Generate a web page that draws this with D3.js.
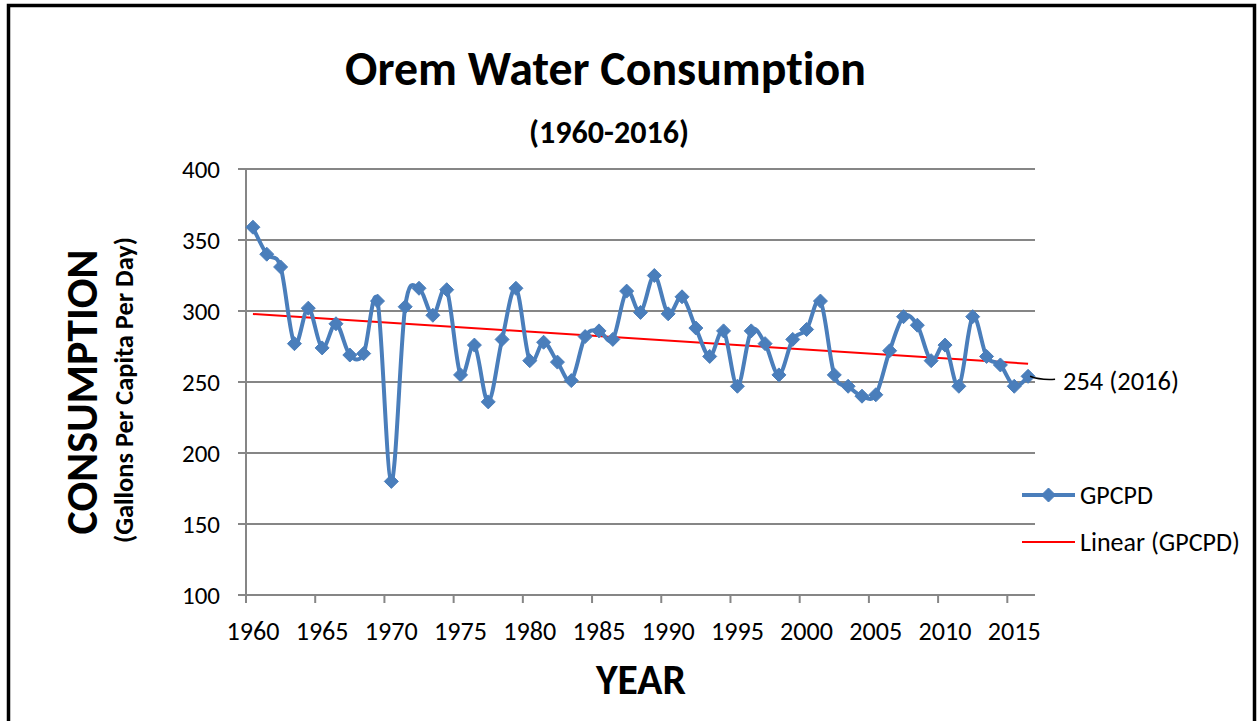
<!DOCTYPE html>
<html>
<head>
<meta charset="utf-8">
<script src="https://cdn.jsdelivr.net/npm/d3@7"></script>
<style>
  html, body { margin: 0; padding: 0; background: #fff; }
  svg { display: block; }
  text { font-family: Carlito, Lato, "Open Sans", sans-serif; fill: #000;
         font-variant-ligatures: none; font-feature-settings: "liga" 0, "clig" 0; }
</style>
</head>
<body>
<svg id="chart" width="1258" height="721"></svg>
<script>
// ---- data ----
const years = d3.range(1960, 2017);
const gpcpd = [
  359, 340, 331, 277, 302, 274, 291, 269, 270, 307,
  180, 303, 316, 297, 315, 255, 276, 236, 280, 316,
  265, 278, 264, 251, 282, 286, 280, 314, 299, 325,
  298, 310, 288, 268, 286, 247, 286, 277, 255, 280,
  287, 307, 255, 247, 240, 241, 272, 296, 290, 265,
  276, 247, 296, 268, 262, 247, 254
];
const yTicks = [100, 150, 200, 250, 300, 350, 400];
const xTickYears = [1960, 1965, 1970, 1975, 1980, 1985, 1990, 1995, 2000, 2005, 2010, 2015];
const titleText = "Orem Water Consumption";
const subtitleText = "(1960-2016)";
const xTitle = "YEAR";
const yTitle = "CONSUMPTION";
const ySubTitle = "(Gallons Per Capita Per Day)";
const seriesName = "GPCPD";
const trendName = "Linear (GPCPD)";
const lastLabel = "254 (2016)";

// ---- layout ----
const svg = d3.select("#chart");
const plot = { left: 246, right: 1035, top: 169, bottom: 595 };
const blue = "#4A7EBB", grid = "#868686", red = "#FF0000";

const x = d3.scaleBand().domain(years).range([plot.left, plot.right]).padding(0);
const cx = yr => x(yr) + x.bandwidth() / 2;
const y = d3.scaleLinear().domain([100, 400]).range([plot.bottom, plot.top]);

function fit(sel, target) {
  const base = parseFloat(sel.attr("font-size"));
  const w = sel.node().getComputedTextLength();
  sel.attr("font-size", (base * target / w).toFixed(2));
  return sel;
}

// frame
svg.append("rect").attr("x", 8.5).attr("y", 5.5).attr("width", 1246).attr("height", 800)
  .attr("fill", "none").attr("stroke", "#000").attr("stroke-width", 3.5);

// gridlines
svg.append("g").selectAll("line").data(yTicks.filter(d => d > 100)).join("line")
  .attr("x1", plot.left - 8).attr("x2", plot.right)
  .attr("y1", d => y(d)).attr("y2", d => y(d))
  .attr("stroke", grid).attr("stroke-width", 2);

// axes
svg.append("line").attr("x1", plot.left).attr("x2", plot.left)
  .attr("y1", plot.top).attr("y2", plot.bottom + 8)
  .attr("stroke", grid).attr("stroke-width", 2);
svg.append("line").attr("x1", plot.left - 8).attr("x2", plot.right)
  .attr("y1", plot.bottom).attr("y2", plot.bottom)
  .attr("stroke", grid).attr("stroke-width", 2);

const yLab = svg.append("g").selectAll("text").data(yTicks).join("text")
  .attr("x", 220).attr("y", d => y(d)).attr("dy", "0.36em")
  .attr("text-anchor", "end").attr("font-size", 20).text(d => d);
{
  const t = yLab.filter(d => d === 400);
  const w = t.node().getComputedTextLength();
  yLab.attr("font-size", (20 * 38 / w).toFixed(2));
}

// x ticks
svg.append("g").selectAll("line").data(xTickYears.filter(d => d !== 1960)).join("line")
  .attr("x1", d => x(d)).attr("x2", d => x(d))
  .attr("y1", plot.bottom).attr("y2", plot.bottom + 8)
  .attr("stroke", grid).attr("stroke-width", 2);
const xLab = svg.append("g").selectAll("text").data(xTickYears).join("text")
  .attr("x", d => cx(d)).attr("y", 640)
  .attr("text-anchor", "middle").attr("font-size", 20).text(d => d);
{
  const t = xLab.filter(d => d === 1960);
  const w = t.node().getComputedTextLength();
  xLab.attr("font-size", (20 * 53 / w).toFixed(2));
}

// titles
fit(svg.append("text").attr("x", 605.5).attr("y", 85).attr("text-anchor", "middle")
  .attr("font-weight", "bold").attr("font-size", 40).text(titleText), 521);
fit(svg.append("text").attr("x", 609).attr("y", 143).attr("text-anchor", "middle")
  .attr("font-weight", "bold").attr("font-size", 22).text(subtitleText), 160);
fit(svg.append("text").attr("x", 641).attr("y", 694).attr("text-anchor", "middle")
  .attr("font-weight", "bold").attr("font-size", 34).text(xTitle), 90);
fit(svg.append("text").attr("transform", "translate(97,392) rotate(-90)").attr("text-anchor", "middle")
  .attr("font-weight", "bold").attr("font-size", 34).text(yTitle), 285);
fit(svg.append("text").attr("transform", "translate(133,390) rotate(-90)").attr("text-anchor", "middle")
  .attr("font-weight", "bold").attr("font-size", 17).text(ySubTitle), 306);

// trendline (least squares over the series)
const n = gpcpd.length;
const xs = d3.range(n);
const mx = d3.mean(xs), my = d3.mean(gpcpd);
const slope = d3.sum(xs, i => (i - mx) * (gpcpd[i] - my)) / d3.sum(xs, i => (i - mx) ** 2);
const icpt = my - slope * mx;
svg.append("line")
  .attr("x1", cx(years[0])).attr("y1", y(icpt))
  .attr("x2", cx(years[n - 1])).attr("y2", y(icpt + slope * (n - 1)))
  .attr("stroke", red).attr("stroke-width", 2);

// series line (smoothed)
const line = d3.line().x((d, i) => cx(years[i])).y(d => y(d)).curve(d3.curveCardinal.tension(0));
svg.append("path").datum(gpcpd).attr("d", line)
  .attr("fill", "none").attr("stroke", blue).attr("stroke-width", 4).attr("stroke-linejoin", "round");

const diamond = (px, py, r) => `M${px},${py - r}L${px + r},${py}L${px},${py + r}L${px - r},${py}Z`;
svg.append("g").selectAll("path").data(gpcpd).join("path")
  .attr("d", (d, i) => diamond(cx(years[i]), y(d), 7))
  .attr("fill", blue).attr("stroke", blue).attr("stroke-width", 1);

// data label for last point
const lx = cx(years[n - 1]), ly = y(gpcpd[n - 1]);
svg.append("path").attr("d", `M${lx + 2},${ly}Q${lx + 12},${ly + 4} ${lx + 27},${ly + 3}`)
  .attr("fill", "none").attr("stroke", "#000").attr("stroke-width", 1.5);
fit(svg.append("text").attr("x", 1063).attr("y", ly + 4).attr("dy", "0.36em")
  .attr("font-size", 22).text(lastLabel), 116);

// legend
const lg = svg.append("g");
lg.append("line").attr("x1", 1022).attr("x2", 1075).attr("y1", 495).attr("y2", 495)
  .attr("stroke", blue).attr("stroke-width", 4);
lg.append("path").attr("d", diamond(1048.5, 495, 7)).attr("fill", blue).attr("stroke", blue);
fit(lg.append("text").attr("x", 1080).attr("y", 495).attr("dy", "0.36em")
  .attr("font-size", 22).text(seriesName), 73);
lg.append("line").attr("x1", 1022).attr("x2", 1075).attr("y1", 542).attr("y2", 542)
  .attr("stroke", red).attr("stroke-width", 2);
fit(lg.append("text").attr("x", 1080).attr("y", 542).attr("dy", "0.36em")
  .attr("font-size", 22).text(trendName), 160);
</script>
</body>
</html>
